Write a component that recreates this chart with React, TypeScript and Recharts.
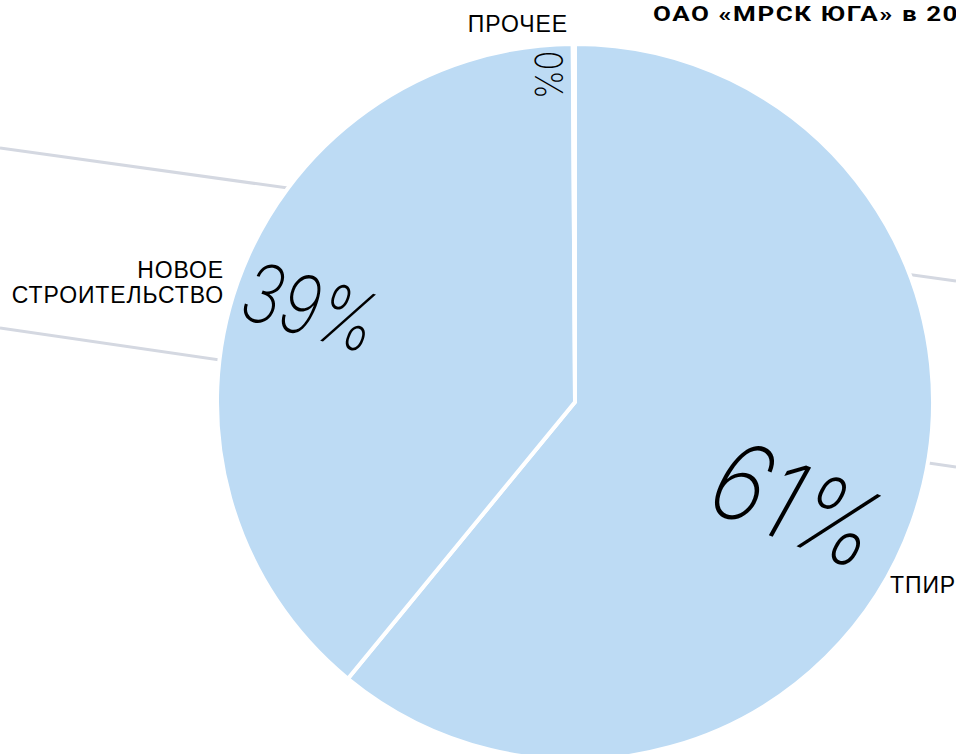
import React from "react";
import { PieChart, Pie, Cell } from "recharts";

const categories = ["ТПИР", "НОВОЕ СТРОИТЕЛЬСТВО", "ПРОЧЕЕ"];
const shares = [61, 39, 0.1];
const percentLabels = ["61%", "39%", "0%"];
const nameLines = [["ТПИР"], ["НОВОЕ", "СТРОИТЕЛЬСТВО"], ["ПРОЧЕЕ"]];
const title = "ОАО «МРСК ЮГА» в 2013 г.";

const data = categories.map((name, i) => ({ name, value: shares[i] }));

const FILL = "#bddbf4";
const LINE = "#d4d8e1";

// style config for labels (offsets relative to pie centre)
const pctStyle = [
  { dx: 223, dy: 102, rotate: 22, skew: -7, size: 108, sx: 0.85 },
  { dx: -264, dy: -95, rotate: 16, skew: -5, size: 82, sx: 0.8 },
  { dx: -27, dy: -327, rotate: 90, skew: 0, size: 38, sx: 0.85 },
];
const nameStyle = [
  { dx: 315, dy: 191, anchor: "start" },
  { dx: -351, dy: -124, anchor: "end" },
  { dx: -7, dy: -370, anchor: "end" },
];

const renderLabel = (props: any) => {
  const { cx, cy, index } = props;
  const p = pctStyle[index];
  const n = nameStyle[index];
  const px = cx + p.dx;
  const py = cy + p.dy;
  return (
    <g key={`lbl-${index}`}>
      <text
        transform={`translate(${px},${py}) rotate(${p.rotate}) skewX(${p.skew}) scale(${p.sx},1)`}
        textAnchor="middle"
        dominantBaseline="central"
        fontFamily="Inter, 'Noto Sans', sans-serif"
        fontWeight={200}
        fontSize={p.size}
        fill="#000"
      >
        {percentLabels[index]}
      </text>
      {nameLines[index].map((line, j) => (
        <text
          key={j}
          x={cx + n.dx}
          y={cy + n.dy + j * 25}
          textAnchor={n.anchor as any}
          fontFamily="'Liberation Sans', Arial, sans-serif"
          fontSize={23}
          letterSpacing={0.9}
          fill="#000"
        >
          {line}
        </text>
      ))}
    </g>
  );
};

export default function App() {
  return (
    <div style={{ position: "absolute", left: 0, top: 0, width: 956, height: 754, background: "#fff", overflow: "hidden" }}>
      <svg width={956} height={754} style={{ position: "absolute", left: 0, top: 0 }}>
        <line x1={0} y1={148} x2={956} y2={281} stroke={LINE} strokeWidth={3} />
        <line x1={0} y1={328} x2={956} y2={467} stroke={LINE} strokeWidth={3} />
      </svg>
      <div style={{ position: "absolute", left: 0, top: 0 }}>
        <PieChart width={956} height={754} margin={{ top: 0, right: 0, bottom: 0, left: 0 }}>
          <Pie
            data={data}
            dataKey="value"
            nameKey="name"
            cx={575}
            cy={402}
            outerRadius={358}
            startAngle={90}
            endAngle={-270}
            stroke="#ffffff"
            strokeWidth={4}
            label={renderLabel}
            labelLine={false}
            isAnimationActive={false}
          >
            {data.map((d, i) => (
              <Cell key={i} fill={FILL} />
            ))}
          </Pie>
          <text
            transform="translate(653,21) scale(1.3,1)"
            fontFamily="Roboto, 'Noto Sans', sans-serif"
            fontWeight={700}
            fontSize={20}
            letterSpacing={1.2}
            fill="#000"
          >
            {title}
          </text>
        </PieChart>
      </div>
    </div>
  );
}
